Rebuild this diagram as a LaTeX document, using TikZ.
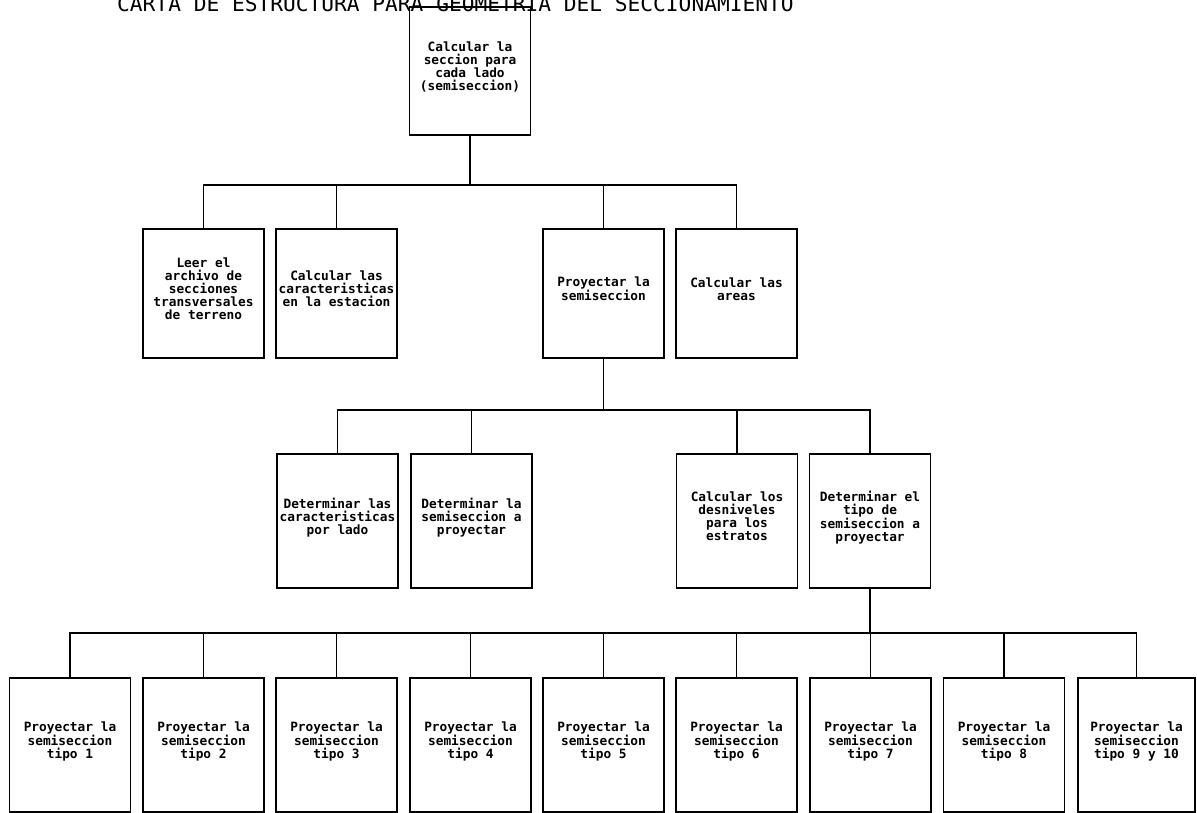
\documentclass[tikz,border=0pt]{standalone}
\usepackage{fontspec}
\newfontfamily\plotfont{DejaVu Sans Mono}
\begin{document}
\begin{tikzpicture}[x=1pt,y=-1pt,
  box/.style={draw, line width=1.7pt, minimum width=121pt, minimum height=#1,
    inner sep=0pt, align=center, text depth=9pt,
    font=\plotfont\bfseries\fontsize{12.8}{13}\selectfont},
  box/.default=130pt,
  link/.style={line width=1.7pt}]
\useasboundingbox (0,0) rectangle (1197,812);

% heading, partly running off the top edge
\node[anchor=base west, inner sep=0pt, font=\plotfont\fontsize{21.2}{22}\selectfont] (title) at (117,11)
  {CARTA DE ESTRUCTURA PARA GEOMETRIA DEL SECCIONAMIENTO};

% level 0
\node[box=128pt] (root) at (470,71) {Calcular la\\seccion para\\cada lado\\(semiseccion)};

% level 1
\node[box=129pt] (leer) at (203.5,293.5) {Leer el\\archivo de\\secciones\\transversales\\de terreno};
\node[box=129pt] (carest) at (336.5,293.5) {Calcular las\\caracteristicas\\en la estacion};
\node[box=129pt] (proy) at (603.5,293.5) {Proyectar la\\semiseccion};
\node[box=129pt] (areas) at (736.5,293.5) {Calcular las\\areas};

% level 2
\node[box=134pt] (detcar) at (337.5,521) {Determinar las\\caracteristicas\\por lado};
\node[box=134pt] (detsem) at (471.5,521) {Determinar la\\semiseccion a\\proyectar};
\node[box=134pt] (desn) at (737,521) {Calcular los\\desniveles\\para los\\estratos};
\node[box=134pt] (tipo) at (870,521) {Determinar el\\tipo de\\semiseccion a\\proyectar};

% level 3
\node[box=134pt] (t1) at (70,745) {Proyectar la\\semiseccion\\tipo 1};
\node[box=134pt] (t2) at (203.5,745) {Proyectar la\\semiseccion\\tipo 2};
\node[box=134pt] (t3) at (336.5,745) {Proyectar la\\semiseccion\\tipo 3};
\node[box=134pt] (t4) at (470.5,745) {Proyectar la\\semiseccion\\tipo 4};
\node[box=134pt] (t5) at (603.5,745) {Proyectar la\\semiseccion\\tipo 5};
\node[box=134pt] (t6) at (736.5,745) {Proyectar la\\semiseccion\\tipo 6};
\node[box=134pt] (t7) at (870.5,745) {Proyectar la\\semiseccion\\tipo 7};
\node[box=134pt] (t8) at (1004,745) {Proyectar la\\semiseccion\\tipo 8};
\node[box=134pt, minimum width=117pt] (t9) at (1136.5,745) {Proyectar la\\semiseccion\\tipo 9 y 10};

% heights of the horizontal distribution bars
\coordinate (barA) at (0,185);
\coordinate (barB) at (0,410);
\coordinate (barC) at (0,633);

\foreach \c in {leer,carest,proy,areas}
  \draw[link] (root.south) -- (root.south |- barA) -| (\c.north);
\foreach \c in {detcar,detsem,desn,tipo}
  \draw[link] (proy.south) -- (proy.south |- barB) -| (\c.north);
\foreach \c in {t1,t2,t3,t4,t5,t6,t7,t8,t9}
  \draw[link] (tipo.south) -- (tipo.south |- barC) -| (\c.north);
\end{tikzpicture}
\end{document}
